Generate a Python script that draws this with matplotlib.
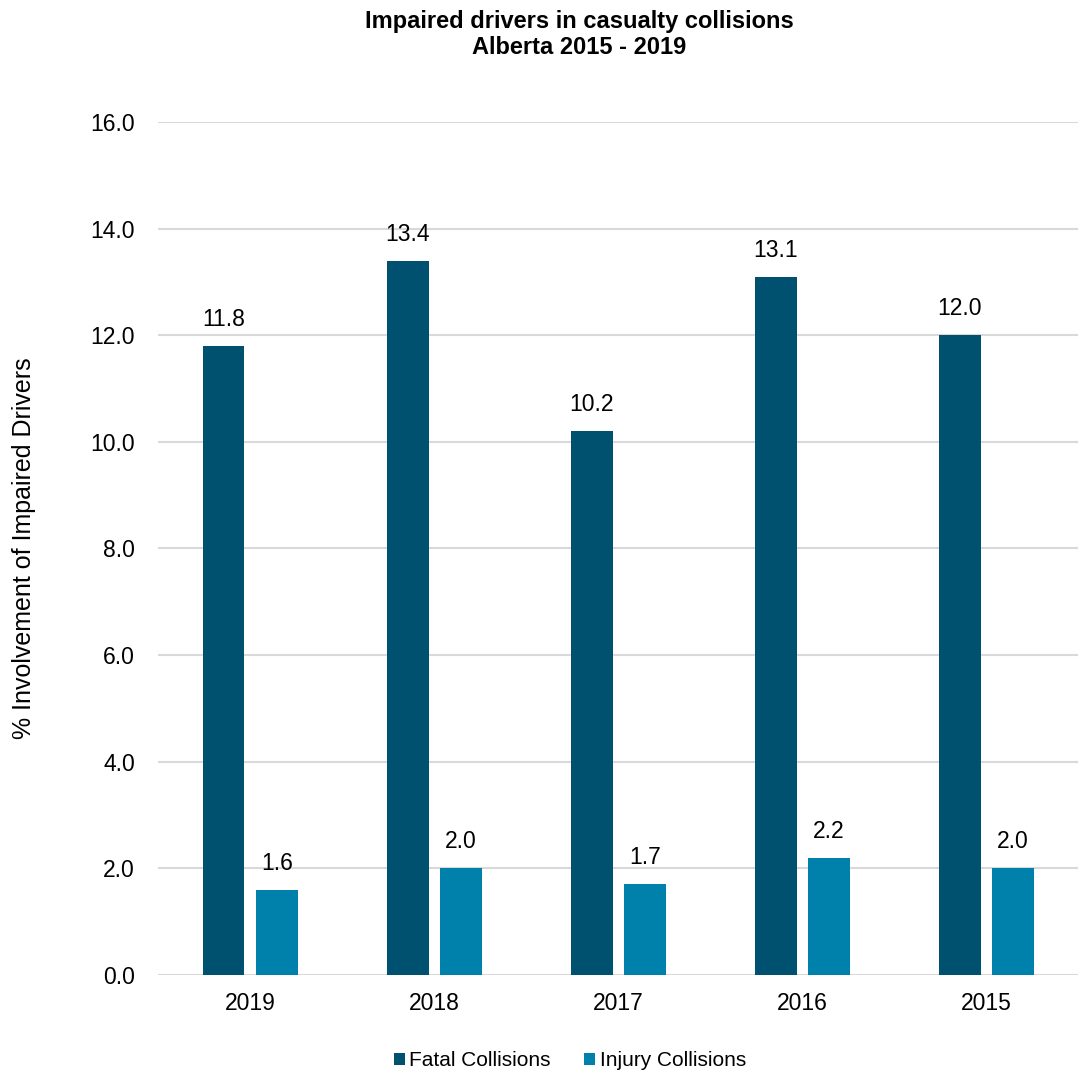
import matplotlib.pyplot as plt
import numpy as np

plt.rcParams['font.family'] = ['Liberation Sans', 'DejaVu Sans']

years = ["2019", "2018", "2017", "2016", "2015"]
fatal = [11.8, 13.4, 10.2, 13.1, 12.0]
injury = [1.6, 2.0, 1.7, 2.2, 2.0]

dark = "#00506F"
light = "#0081AB"

fig = plt.figure(figsize=(10.79, 10.76), dpi=100)
ax = fig.add_axes([0.1464, 0.0939, 0.853, 0.7927])

x = np.arange(len(years))
w = 0.228
b1 = ax.bar(x - 0.144, fatal, w, color=dark, label="Fatal Collisions", zorder=3)
b2 = ax.bar(x + 0.146, injury, w, color=light, label="Injury Collisions", zorder=3)

for bars, vals in ((b1, fatal), (b2, injury)):
    for r, v in zip(bars, vals):
        ax.text(r.get_x() + r.get_width() / 2, v + 0.28, f"{v:.1f}",
                ha="center", va="bottom", fontsize=16.5)

ax.set_ylim(0, 16)
ax.set_xlim(-0.5, len(years) - 0.5)
ax.set_yticks(np.arange(0, 17, 2))
ax.set_yticklabels([f"{t:.1f}" for t in np.arange(0, 17, 2)], fontsize=16.5)
ax.set_xticks(x)
ax.set_xticklabels(years, fontsize=16.5)
ax.tick_params(length=0)
ax.tick_params(axis="y", pad=16.5)
ax.tick_params(axis="x", pad=12)
ax.grid(axis="y", color="#D9D9D9", lw=1.5, zorder=0)
for s in ax.spines.values():
    s.set_visible(False)

ax.set_ylabel("% Involvement of Impaired Drivers", fontsize=18)
ax.yaxis.set_label_coords(-0.1326, 0.5)

fig.text(0.5366, 0.991, "Impaired drivers in casualty collisions\nAlberta 2015 - 2019",
         ha="center", va="top", fontsize=17, fontweight="bold", linespacing=1.2)

fig.legend(handles=[b1, b2], loc="center", bbox_to_anchor=(0.528, 0.014),
           ncol=2, frameon=False, fontsize=15, handlelength=0.55, handleheight=0.55,
           handletextpad=0.2, columnspacing=1.6)

fig.savefig("out.png", dpi=100)
